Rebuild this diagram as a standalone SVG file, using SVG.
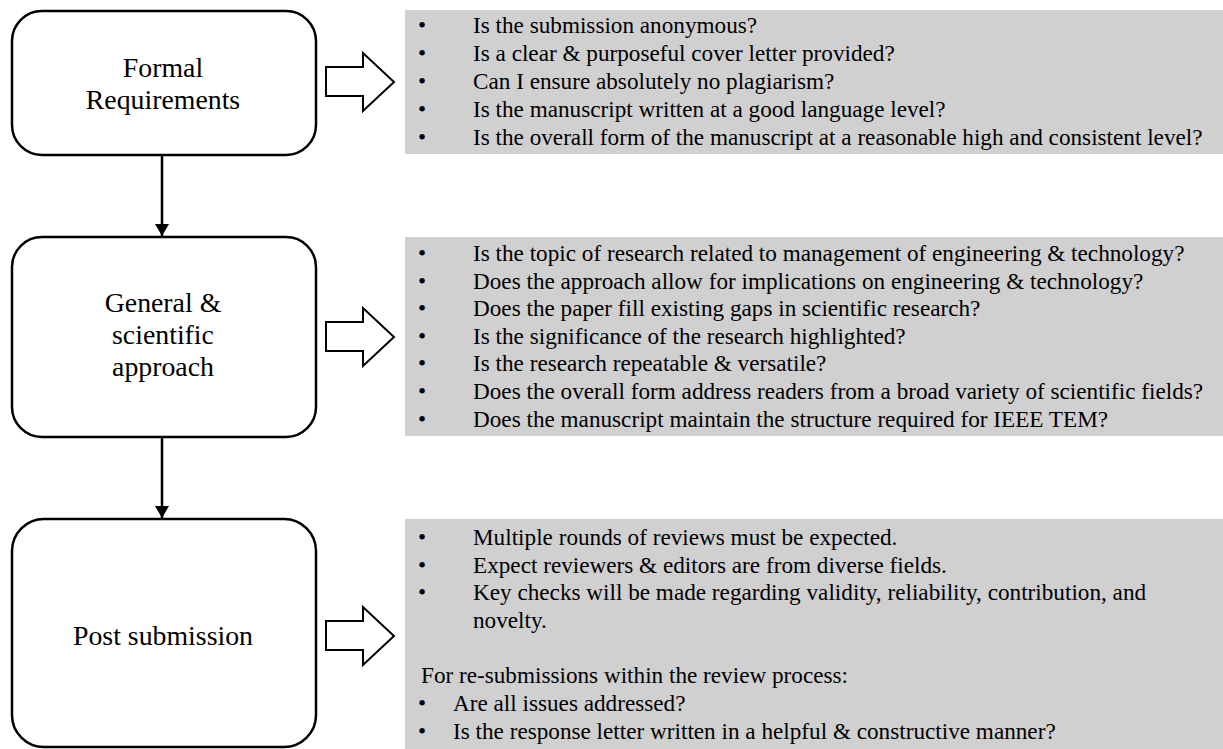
<svg xmlns="http://www.w3.org/2000/svg" width="1223" height="749" viewBox="0 0 1223 749">
<defs>
<style>
.box{fill:#fff;stroke:#000;stroke-width:2.5}
.panel{fill:#d0d0d0}
.blk{fill:#fff;stroke:#000;stroke-width:2;stroke-linejoin:miter}
.lbl{font-family:"Liberation Serif","Times New Roman",serif;font-size:27.8px;fill:#000;text-anchor:middle}
.t{font-family:"Liberation Serif","Times New Roman",serif;font-size:23.2px;fill:#000}
.conn{stroke:#000;stroke-width:2.5;fill:none}
</style>
<marker id="ah" markerWidth="12" markerHeight="14" refX="12" refY="7" orient="auto" markerUnits="userSpaceOnUse" viewBox="0 0 12 14">
<path d="M0,0 L12,7 L0,14 Z" fill="#000"/>
</marker>
</defs>
<rect width="1223" height="749" fill="#fff"/>

<g id="panel1">
<rect class="panel" x="405" y="10" width="818" height="144"/>
<text class="t" x="418" y="33">•</text><text class="t" x="473" y="33">Is the submission anonymous?</text>
<text class="t" x="418" y="61">•</text><text class="t" x="473" y="61">Is a clear &amp; purposeful cover letter provided?</text>
<text class="t" x="418" y="89">•</text><text class="t" x="473" y="89">Can I ensure absolutely no plagiarism?</text>
<text class="t" x="418" y="117">•</text><text class="t" x="473" y="117">Is the manuscript written at a good language level?</text>
<text class="t" x="418" y="145">•</text><text class="t" x="473" y="145">Is the overall form of the manuscript at a reasonable high and consistent level?</text>
</g>

<g id="panel2">
<rect class="panel" x="405" y="237" width="818" height="199"/>
<text class="t" x="418" y="261">•</text><text class="t" x="473" y="261">Is the topic of research related to management of engineering &amp; technology?</text>
<text class="t" x="418" y="288.6">•</text><text class="t" x="473" y="288.6">Does the approach allow for implications on engineering &amp; technology?</text>
<text class="t" x="418" y="316.2">•</text><text class="t" x="473" y="316.2">Does the paper fill existing gaps in scientific research?</text>
<text class="t" x="418" y="343.8">•</text><text class="t" x="473" y="343.8">Is the significance of the research highlighted?</text>
<text class="t" x="418" y="371.4">•</text><text class="t" x="473" y="371.4">Is the research repeatable &amp; versatile?</text>
<text class="t" x="418" y="399">•</text><text class="t" x="473" y="399">Does the overall form address readers from a broad variety of scientific fields?</text>
<text class="t" x="418" y="426.6">•</text><text class="t" x="473" y="426.6">Does the manuscript maintain the structure required for IEEE TEM?</text>
</g>

<g id="panel3">
<rect class="panel" x="405" y="519" width="818" height="230"/>
<text class="t" x="418" y="545">•</text><text class="t" x="473" y="545">Multiple rounds of reviews must be expected.</text>
<text class="t" x="418" y="573">•</text><text class="t" x="473" y="573">Expect reviewers &amp; editors are from diverse fields.</text>
<text class="t" x="418" y="600">•</text><text class="t" x="473" y="600">Key checks will be made regarding validity, reliability, contribution, and</text>
<text class="t" x="473" y="628">novelty.</text>
<text class="t" x="421" y="683">For re-submissions within the review process:</text>
<text class="t" x="418" y="711">•</text><text class="t" x="453" y="711">Are all issues addressed?</text>
<text class="t" x="418" y="739">•</text><text class="t" x="453" y="739">Is the response letter written in a helpful &amp; constructive manner?</text>
</g>

<g id="node1">
<rect class="box" x="12" y="11" width="304" height="144" rx="30" ry="30"/>
<text class="lbl" x="163" y="77">Formal</text>
<text class="lbl" x="163" y="109">Requirements</text>
</g>

<g id="node2">
<rect class="box" x="12" y="237" width="304" height="200" rx="30" ry="30"/>
<text class="lbl" x="163" y="312">General &amp;</text>
<text class="lbl" x="163" y="344">scientific</text>
<text class="lbl" x="163" y="376">approach</text>
</g>

<g id="node3">
<rect class="box" x="12" y="519" width="304" height="228" rx="32" ry="32"/>
<text class="lbl" x="163" y="645">Post submission</text>
</g>

<g id="connectors">
<line class="conn" x1="162" y1="155" x2="162" y2="236" marker-end="url(#ah)"/>
<line class="conn" x1="162" y1="437" x2="162" y2="518" marker-end="url(#ah)"/>
<polygon class="blk" points="326,67 363,67 363,53 394,82 363,111 363,96 326,96"/>
<polygon class="blk" points="326,322 363,322 363,308 394,337 363,366 363,351 326,351"/>
<polygon class="blk" points="326,621 363,621 363,607 394,636 363,665 363,650 326,650"/>
</g>
</svg>
